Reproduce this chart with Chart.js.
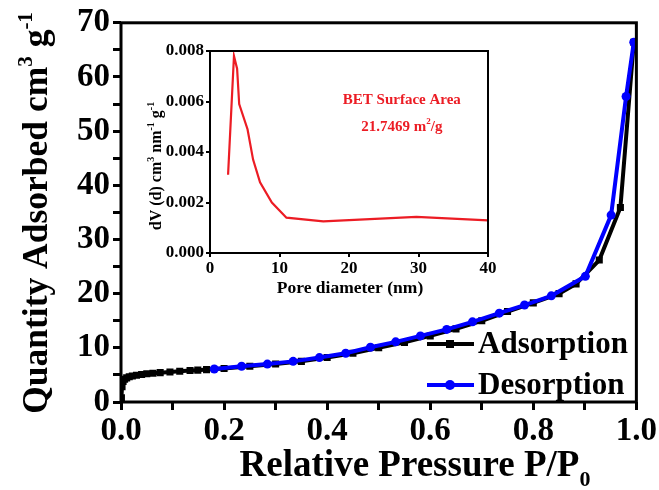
<!DOCTYPE html>
<html><head><meta charset="utf-8">
<script src="https://cdn.jsdelivr.net/npm/chart.js@4.4.0/dist/chart.umd.min.js"></script>
<style>
html,body{margin:0;padding:0;background:#fff;}
#wrap{position:relative;width:659px;height:490px;overflow:hidden;}
canvas{position:absolute;}
</style>
</head><body>
<div id="wrap">
<canvas id="main" width="659" height="490" style="left:0;top:0;width:659px;height:490px"></canvas>
<canvas id="inset" width="360" height="265" style="left:140px;top:36px;width:360px;height:265px"></canvas>
</div>
<script>
// ---------- data ----------
const seriesNames = ['Adsorption', 'Desorption'];

const adsorptionP = [0.0008, 0.002, 0.004, 0.007, 0.011, 0.016, 0.022, 0.03, 0.04, 0.05, 0.062, 0.076, 0.095, 0.114, 0.134, 0.149, 0.166,
  0.2, 0.25, 0.3, 0.35, 0.4, 0.45, 0.5, 0.55, 0.6, 0.65, 0.7, 0.75, 0.8, 0.85, 0.883, 0.928, 0.969, 0.995];
const adsorptionQ = [0.8, 2.8, 3.8, 4.2, 4.45, 4.65, 4.8, 4.95, 5.08, 5.2, 5.3, 5.42, 5.55, 5.68, 5.8, 5.88, 5.98,
  6.2, 6.6, 7.0, 7.5, 8.2, 9.0, 10.0, 11.0, 12.2, 13.5, 15.0, 16.7, 18.3, 20.0, 21.8, 26.2, 35.9, 66.4];

const desorptionP = [0.181, 0.234, 0.284, 0.334, 0.385, 0.436, 0.484, 0.533, 0.581, 0.632, 0.682, 0.734, 0.783, 0.835, 0.901, 0.951, 0.980, 0.995];
const desorptionQ = [6.1, 6.6, 7.0, 7.5, 8.2, 9.0, 10.1, 11.1, 12.2, 13.4, 14.8, 16.4, 17.9, 19.6, 23.2, 34.5, 56.4, 66.4];

const poreDiameter = [2.6, 3.45, 3.9, 4.2, 5.4, 6.2, 7.2, 8.9, 11.0, 16.3, 29.7, 40];
const poreVolume = [0.0031, 0.0078, 0.0073, 0.0059, 0.0049, 0.0037, 0.0028, 0.0020, 0.0014, 0.00125, 0.00143, 0.00129];

const pressureTickLabels = ['0.0', '0.2', '0.4', '0.6', '0.8', '1.0'];
const quantityTickLabels = ['0', '10', '20', '30', '40', '50', '60', '70'];
const poreTickLabels = ['0', '10', '20', '30', '40'];
const volumeTickLabels = ['0.000', '0.002', '0.004', '0.006', '0.008'];

const betLines = ['BET Surface Area', '21.7469 m', '2', '/g'];

// ---------- helpers ----------
const FAM = "'Liberation Serif', 'Times New Roman', serif";
function font(size) { return 'bold ' + size + 'px ' + FAM; }
function zip(xs, ys) { return xs.map((x, i) => ({ x: x, y: ys[i] })); }

function richWidth(ctx, parts, size) {
  let w = 0;
  parts.forEach(p => {
    ctx.font = font(p.mode ? Math.round(size * 0.6) : size);
    w += ctx.measureText(p.t).width;
  });
  return w;
}
function drawRich(ctx, parts, size, cx, cy, rot, color) {
  ctx.save();
  ctx.translate(cx, cy);
  if (rot) ctx.rotate(rot);
  ctx.fillStyle = color || '#000';
  ctx.textBaseline = 'alphabetic';
  ctx.textAlign = 'left';
  let x = -richWidth(ctx, parts, size) / 2;
  parts.forEach(p => {
    const s = p.mode ? Math.round(size * 0.6) : size;
    ctx.font = font(s);
    let dy = 0;
    if (p.mode === 'sup') dy = -size * 0.42;
    if (p.mode === 'sub') dy = size * 0.28;
    ctx.fillText(p.t, x, dy);
    x += ctx.measureText(p.t).width;
  });
  ctx.restore();
}

// ---------- main chart ----------
const mainDecor = {
  id: 'mainDecor',
  afterDraw(chart) {
    const ctx = chart.ctx, a = chart.chartArea;
    ctx.save();
    ctx.strokeStyle = '#000';
    ctx.lineWidth = 3;
    ctx.strokeRect(a.left, a.top, a.right - a.left, a.bottom - a.top);
    ctx.restore();
    // axis titles
    drawRich(ctx, [{ t: 'Relative Pressure P/P' }, { t: '0', mode: 'sub' }], 37, 415, 476, 0);
    drawRich(ctx, [{ t: 'Quantity Adsorbed cm' }, { t: '3', mode: 'sup' }, { t: ' g' }, { t: '-1', mode: 'sup' }], 35.5, 47, 213, -Math.PI / 2);
    // legend
    const rows = [
      { name: seriesNames[0], color: '#000', y: 344, style: 'rect' },
      { name: seriesNames[1], color: '#0000ff', y: 385, style: 'circle' }
    ];
    rows.forEach(r => {
      ctx.save();
      ctx.strokeStyle = r.color; ctx.fillStyle = r.color; ctx.lineWidth = 4;
      ctx.beginPath(); ctx.moveTo(427, r.y); ctx.lineTo(474, r.y); ctx.stroke();
      if (r.style === 'rect') ctx.fillRect(446, r.y - 4, 8, 8);
      else { ctx.beginPath(); ctx.arc(450, r.y, 5, 0, Math.PI * 2); ctx.fill(); }
      ctx.fillStyle = '#000';
      ctx.font = font(31);
      ctx.textBaseline = 'middle';
      ctx.textAlign = 'left';
      ctx.fillText(r.name, 478, r.y + 1);
      ctx.restore();
    });
  }
};

new Chart(document.getElementById('main'), {
  type: 'scatter',
  data: {
    datasets: [
      {
        label: seriesNames[1], data: zip(desorptionP, desorptionQ), showLine: true,
        borderColor: '#0000ff', backgroundColor: '#0000ff', borderWidth: 4,
        pointStyle: 'circle', pointRadius: 4.5, pointBorderWidth: 0
      },
      {
        label: seriesNames[0], data: zip(adsorptionP, adsorptionQ), showLine: true,
        borderColor: '#000', backgroundColor: '#000', borderWidth: 4,
        pointStyle: 'rect', pointRadius: 5, pointBorderWidth: 0
      }
    ]
  },
  options: {
    responsive: false, animation: false, devicePixelRatio: 1,
    layout: { padding: { top: 18, right: 22, left: 0, bottom: 0 } },
    plugins: { legend: { display: false }, tooltip: { enabled: false } },
    scales: {
      x: {
        type: 'linear', min: 0, max: 1,
        afterFit(s) { s.height = 88; },
        border: { display: false },
        grid: { drawOnChartArea: false, drawTicks: true, tickLength: 8, lineWidth: 3, color: '#000' },
        ticks: {
          stepSize: 0.1, autoSkip: false, maxRotation: 0, padding: 2, color: '#000', font: { family: FAM, size: 33, weight: 'bold' },
          callback(v) { const k = Math.round(v * 10); return k % 2 === 0 ? pressureTickLabels[k / 2] : ''; }
        }
      },
      y: {
        type: 'linear', min: 0, max: 70,
        afterFit(s) { s.width = 121; },
        border: { display: false },
        grid: { drawOnChartArea: false, drawTicks: true, tickLength: 8, lineWidth: 3, color: '#000' },
        ticks: {
          stepSize: 5, autoSkip: false, padding: 3, color: '#000', font: { family: FAM, size: 33, weight: 'bold' },
          callback(v) { const k = Math.round(v / 5); return k % 2 === 0 ? quantityTickLabels[k / 2] : ''; }
        }
      }
    }
  },
  plugins: [mainDecor]
});

// ---------- inset chart ----------
const insetDecor = {
  id: 'insetDecor',
  afterDraw(chart) {
    const ctx = chart.ctx, a = chart.chartArea;
    ctx.save();
    ctx.strokeStyle = '#000';
    ctx.lineWidth = 2;
    ctx.strokeRect(a.left, a.top, a.right - a.left, a.bottom - a.top);
    ctx.restore();
    drawRich(ctx, [{ t: 'Pore diameter (nm)' }], 17.5, (a.left + a.right) / 2 + 1, 257, 0);
    drawRich(ctx, [{ t: 'dV (d) cm' }, { t: '3', mode: 'sup' }, { t: ' nm' }, { t: '-1', mode: 'sup' }, { t: ' g' }, { t: '-1', mode: 'sup' }], 16, 21, 130, -Math.PI / 2);
    const xs = chart.scales.x, ys = chart.scales.y;
    const cx = xs.getPixelForValue(27.6);
    drawRich(ctx, [{ t: betLines[0] }], 15, cx, ys.getPixelForValue(0.00590), 0, '#ec1c24');
    drawRich(ctx, [{ t: betLines[1] }, { t: betLines[2], mode: 'sup' }, { t: betLines[3] }], 15, cx, ys.getPixelForValue(0.00485), 0, '#ec1c24');
  }
};

new Chart(document.getElementById('inset'), {
  type: 'scatter',
  data: {
    datasets: [{
      label: 'Pore size distribution', data: zip(poreDiameter, poreVolume), showLine: true,
      borderColor: '#ec1c24', borderWidth: 2.2, pointRadius: 0, tension: 0
    }]
  },
  options: {
    responsive: false, animation: false, devicePixelRatio: 1,
    layout: { padding: { top: 15, right: 12, left: 0, bottom: 0 } },
    plugins: { legend: { display: false }, tooltip: { enabled: false } },
    scales: {
      x: {
        type: 'linear', min: 0, max: 40,
        afterFit(s) { s.height = 48; },
        border: { display: false },
        grid: { drawOnChartArea: false, drawTicks: true, tickLength: 4, lineWidth: 2, color: '#000' },
        ticks: {
          stepSize: 10, autoSkip: false, maxRotation: 0, padding: 1, color: '#000', font: { family: FAM, size: 17, weight: 'bold' },
          callback(v) { return poreTickLabels[Math.round(v / 10)]; }
        }
      },
      y: {
        type: 'linear', min: 0, max: 0.008,
        afterFit(s) { s.width = 70; },
        border: { display: false },
        grid: { drawOnChartArea: false, drawTicks: true, tickLength: 4, lineWidth: 2, color: '#000' },
        ticks: {
          stepSize: 0.002, autoSkip: false, padding: 2, color: '#000', font: { family: FAM, size: 17, weight: 'bold' },
          callback(v) { return volumeTickLabels[Math.round(v / 0.002)]; }
        }
      }
    }
  },
  plugins: [insetDecor]
});
</script>
</body></html>
